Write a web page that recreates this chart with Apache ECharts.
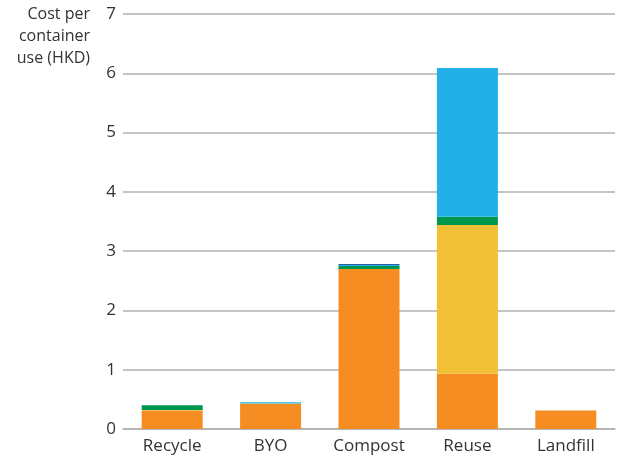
<!DOCTYPE html>
<html><head><meta charset="utf-8">
<script src="https://cdn.jsdelivr.net/npm/echarts@6/dist/echarts.min.js"></script>
<style>html,body{margin:0;padding:0;background:#fff}#c{width:618px;height:459px}</style>
</head><body><div id="c"></div>
<script>
const categories = ['Recycle', 'BYO', 'Compost', 'Reuse', 'Landfill'];
const orangeVals = [0.31, 0.42, 2.70, 0.93, 0.31];
const yellowVals = [0.01, 0.01, 0, 2.51, 0];
const greenVals = [0.08, 0, 0.05, 0.14, 0];
const lightBlueVals = [0, 0.02, 0.015, 2.51, 0];
const darkBlueVals = [0, 0, 0.02, 0, 0];
const yTicks = [0, 1, 2, 3, 4, 5, 6, 7];
const yTitle = ['Cost per', 'container', 'use (HKD)'];

const font = '"Open Sans", "Noto Sans", sans-serif';
const chart = echarts.init(document.getElementById('c'));
function s(name, data, color) {
  return { name, type: 'bar', stack: 'total', data, barWidth: 61, itemStyle: { color }, emphasis: { disabled: true } };
}
chart.setOption({
  animation: false,
  grid: { left: 123, right: 3, top: 14, bottom: 30 },
  xAxis: {
    type: 'category', data: categories,
    axisLine: { lineStyle: { color: '#b0b0b0', width: 1.5 } },
    axisTick: { show: false },
    axisLabel: { color: '#333', fontSize: 17, fontFamily: font, margin: 9 }
  },
  yAxis: {
    type: 'value', min: yTicks[0], max: yTicks[yTicks.length - 1], interval: 1,
    axisLine: { show: false }, axisTick: { show: false },
    axisLabel: { color: '#333', fontSize: 17, fontFamily: font, margin: 7 },
    splitLine: { lineStyle: { color: '#b0b0b0', width: 1.5 } }
  },
  graphic: [{
    type: 'text', x: 90, y: 3,
    style: { text: yTitle.join('\n'), fill: '#333', font: '16px ' + font, lineHeight: 22, align: 'right', verticalAlign: 'top' }
  }],
  series: [
    s('Orange', orangeVals, '#f68d22'),
    s('Yellow', yellowVals, '#f2c037'),
    s('Green', greenVals, '#00964b'),
    s('Light blue', lightBlueVals, '#22b0e6'),
    s('Dark blue', darkBlueVals, '#2f5ea8')
  ]
});
</script></body></html>
